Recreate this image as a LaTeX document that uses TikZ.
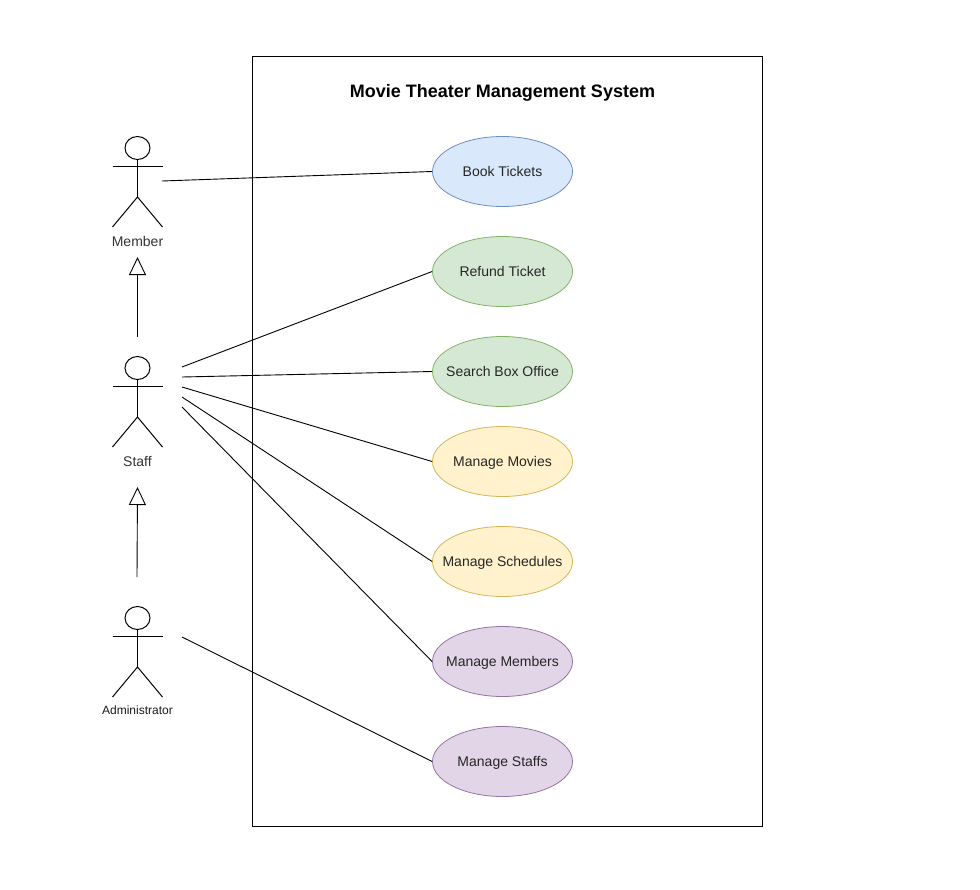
\documentclass[tikz,border=0pt]{standalone}
\usepackage{fontspec}
\setmainfont{Liberation Sans}
\usetikzlibrary{arrows.meta,shapes.geometric}
\definecolor{bluef}{HTML}{DAE8FC}\definecolor{bluel}{HTML}{6C8EBF}
\definecolor{greenf}{HTML}{D5E8D4}\definecolor{greenl}{HTML}{82B366}
\definecolor{yellowf}{HTML}{FFF2CC}\definecolor{yellowl}{HTML}{D6B656}
\definecolor{purplef}{HTML}{E1D5E7}\definecolor{purplel}{HTML}{9673A6}
\definecolor{txt}{HTML}{333333}
\newcommand{\casetext}[1]{\makebox[0pt][c]{\smash{\raisebox{-5pt}{#1}}}}
\tikzset{
  x=1pt,y=-1pt,
  usecase/.style={ellipse,draw,line width=0.8pt,minimum width=140pt,minimum height=70pt,inner sep=0pt,text=black!85,font=\fontsize{14}{16}\selectfont},
  bluecase/.style={usecase,fill=bluef,draw=bluel},
  greencase/.style={usecase,fill=greenf,draw=greenl},
  yellowcase/.style={usecase,fill=yellowf,draw=yellowl},
  purplecase/.style={usecase,fill=purplef,draw=purplel},
  assoc/.style={draw=black,line width=0.9pt},
  general/.style={draw=black,line width=0.9pt,-{Triangle[open,length=18pt,width=17pt,fill=white]}},
  actorlabel/.style={text=txt,inner sep=0pt,font=\fontsize{14}{16}\selectfont},
  pics/actorfig/.style={code={
    \draw[line width=1pt] (0,0) ellipse[x radius=12.5,y radius=11.5];
    \draw[line width=1pt] (0,11.5) -- (0,49);
    \draw[line width=1pt] (-25,18.5) -- (25,18.5);
    \draw[line width=1pt] (-25,79) -- (0,49) -- (25,79);
  }}
}
\begin{document}
\begin{tikzpicture}
\useasboundingbox (0,0) rectangle (980,889);
\node[draw=black,line width=0.9pt,minimum width=510pt,minimum height=770pt,inner sep=0pt,anchor=north west] (system) at (252,56) {};
\node[inner sep=0pt,font=\fontsize{18}{20}\selectfont\bfseries] (title) at (502.5,92.5) {Movie Theater Management System};

\pic at (137.5,148) {actorfig};
\pic at (137.5,368) {actorfig};
\pic at (137.5,618) {actorfig};
\node[actorlabel] (member) at (137.5,241) {Member};
\node[actorlabel] (staff) at (137.5,461) {Staff};
\node[actorlabel,text=black!90,font=\fontsize{12}{14}\selectfont] (admin) at (137.5,710) {Administrator};

\node[bluecase] (book) at (502.5,171.5) {\casetext{Book Tickets}};
\node[greencase] (refund) at (502.5,271.5) {\casetext{Refund Ticket}};
\node[greencase] (search) at (502.5,371.5) {\casetext{Search Box Office}};
\node[yellowcase] (movies) at (502.5,461.5) {\casetext{Manage Movies}};
\node[yellowcase] (schedules) at (502.5,561.5) {\casetext{Manage Schedules}};
\node[purplecase] (members) at (502.5,661.5) {\casetext{Manage Members}};
\node[purplecase] (staffs) at (502.5,761.5) {\casetext{Manage Staffs}};

\coordinate (mEnd) at (162,181);
\coordinate (s1) at (182,367);
\coordinate (s2) at (182,377);
\coordinate (s3) at (182,387);
\coordinate (s4) at (182,397);
\coordinate (s5) at (182,407);
\coordinate (aEnd) at (182,637);
\coordinate (g1a) at (137.5,337);
\coordinate (g1b) at (137.5,257);
\coordinate (g2a) at (137,577);
\coordinate (g2b) at (137.5,487);

\draw[assoc] (mEnd) -- (book.west);
\draw[assoc] (s1) -- (refund.west);
\draw[assoc] (s2) -- (search.west);
\draw[assoc] (s3) -- (movies.west);
\draw[assoc] (s4) -- (schedules.west);
\draw[assoc] (s5) -- (members.west);
\draw[assoc] (aEnd) -- (staffs.west);
\draw[general] (g1a) -- (g1b);
\draw[general] (g2a) -- (g2b);
\end{tikzpicture}
\end{document}
